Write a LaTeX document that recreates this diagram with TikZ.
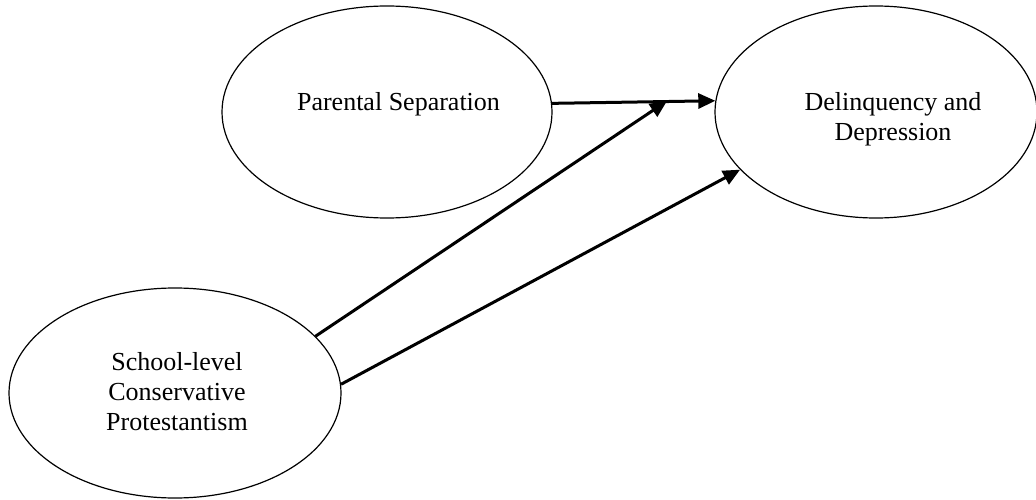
\documentclass[tikz,border=0pt]{standalone}
\usepackage{fontspec}
\setmainfont{Liberation Serif}
\usetikzlibrary{shapes.geometric,arrows.meta}
\begin{document}
\begin{tikzpicture}[x=1pt,y=1pt,
  oval/.style={draw,ellipse,line width=1.2pt,inner sep=0pt,minimum width=#1},
  lbl/.style={font=\fontsize{26}{30}\selectfont,align=center,inner sep=0pt,anchor=base},
  path/.style={line width=3pt,-{Triangle[length=17pt,width=15pt]}}]
\useasboundingbox (0,0) rectangle (1036,499);
% ellipses (y = 499 - pixel y)
\node[oval=330pt,minimum height=212pt] (ps) at (387,387) {};
\node[oval=322pt,minimum height=212pt] (dd) at (876,387) {};
\node[oval=332pt,minimum height=210pt] (cp) at (175,106) {};
% labels (base anchor = baseline of last line)
\node[lbl] (pst) at (398.5,388) {Parental Separation};
\node[lbl] (ddt) at (893,358) {Delinquency and\\Depression};
\node[lbl] (cpt) at (177,69) {School-level\\Conservative\\Protestantism};
% connectors
\coordinate (mid) at (667,398);
\draw[path] (ps.3.84) -- (dd.176.07);
\draw[path] (cp.22.5) -- (mid);
\draw[path] (cp.3.86) -- (dd.203.65);
\end{tikzpicture}
\end{document}
